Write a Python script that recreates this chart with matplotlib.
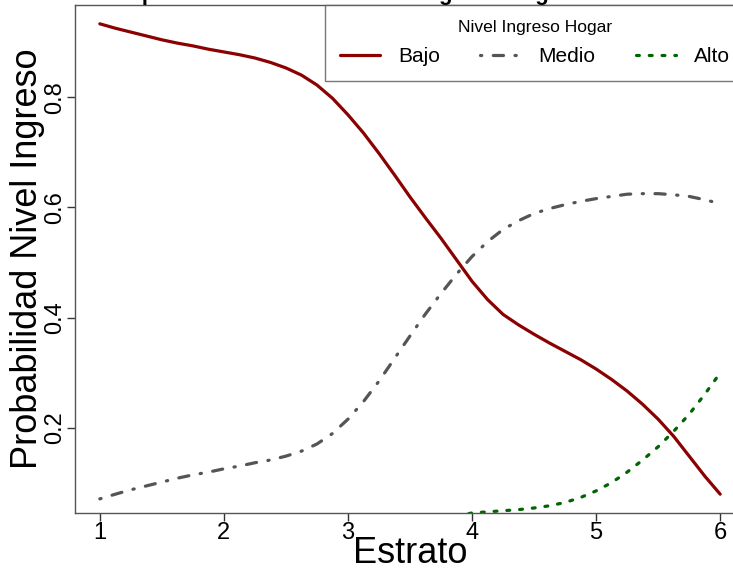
import numpy as np
import matplotlib
matplotlib.use("Agg")
import matplotlib.pyplot as plt

plt.rcParams['font.family'] = ['Liberation Sans', 'DejaVu Sans']

# ---- data ----
estrato = [1.0, 1.125, 1.25, 1.375, 1.5, 1.625, 1.75, 1.875, 2.0, 2.125,
           2.25, 2.375, 2.5, 2.625, 2.75, 2.875, 3.0, 3.125, 3.25, 3.375,
           3.5, 3.625, 3.75, 3.875, 4.0, 4.125, 4.25, 4.375, 4.5, 4.625,
           4.75, 4.875, 5.0, 5.125, 5.25, 5.375, 5.5, 5.625, 5.75, 5.875, 6.0]
bajo = [0.933, 0.925, 0.918, 0.911, 0.904, 0.898, 0.893, 0.887, 0.882, 0.877,
        0.871, 0.863, 0.853, 0.840, 0.822, 0.798, 0.768, 0.735, 0.698, 0.659,
        0.619, 0.581, 0.544, 0.505, 0.466, 0.433, 0.406, 0.387, 0.370, 0.354,
        0.339, 0.324, 0.307, 0.288, 0.267, 0.243, 0.216, 0.185, 0.149, 0.113, 0.080]
medio = [0.0715, 0.080, 0.088, 0.095, 0.102, 0.109, 0.115, 0.120, 0.126, 0.131,
         0.137, 0.142, 0.149, 0.158, 0.171, 0.190, 0.216, 0.248, 0.285, 0.326,
         0.367, 0.407, 0.444, 0.479, 0.511, 0.538, 0.560, 0.576, 0.589, 0.598,
         0.605, 0.611, 0.616, 0.620, 0.624, 0.625, 0.625, 0.623, 0.620, 0.614, 0.607]
alto = [0.002, 0.002, 0.002, 0.003, 0.003, 0.003, 0.004, 0.004, 0.005, 0.005,
        0.006, 0.007, 0.008, 0.009, 0.010, 0.011, 0.012, 0.014, 0.016, 0.019,
        0.022, 0.027, 0.033, 0.040, 0.046, 0.048, 0.050, 0.052, 0.055, 0.059,
        0.065, 0.074, 0.086, 0.101, 0.120, 0.142, 0.166, 0.194, 0.225, 0.261, 0.300]
series_names = ["Bajo", "Medio", "Alto"]
xticks = [1, 2, 3, 4, 5, 6]
yticks = [0.2, 0.4, 0.6, 0.8]
title = "Impacto del Estrato en Nivel Ingreso Hogar"
legend_title = "Nivel Ingreso Hogar"

W, H = 733, 571
fig = plt.figure(figsize=(W / 100, H / 100), dpi=100)
ax = fig.add_axes([75 / W, 58 / H, 670 / W, 508 / H])

lw = 2.3
ax.plot(estrato, bajo, color='#8B0000', lw=lw, solid_capstyle='round',
        solid_joinstyle='round', label=series_names[0])
ax.plot(estrato, medio, color='#555555', lw=lw, dashes=(0.4, 3.6, 3.2, 3.6),
        dash_capstyle='round', label=series_names[1])
ax.plot(estrato, alto, color='#006400', lw=lw, dashes=(0.9, 3.1),
        dash_capstyle='round', label=series_names[2])

# R-style 4% axis extension
xr = max(estrato) - min(estrato)
ax.set_xlim(min(estrato) - 0.04 * xr, max(estrato) + 0.04 * xr)
yr = max(bajo) - min(bajo)
ax.set_ylim(min(bajo) - 0.04 * yr, max(bajo) + 0.04 * yr)

ax.set_xticks(xticks)
ax.set_xticklabels([str(v) for v in xticks])
ax.set_yticks(yticks)
ax.set_yticklabels([f"{v:.1f}" for v in yticks], rotation=90, va='center')
ax.tick_params(axis='both', direction='out', length=5.8, width=1.0,
               color='#333333', labelsize=17, pad=0.5)

for s in ax.spines.values():
    s.set_color('#555555')
    s.set_linewidth(1.0)

ax.set_xlabel("Estrato", fontsize=26)
ax.xaxis.label.set_va('baseline')
ax.xaxis.set_label_coords(0.5, (8 - 58) / 508)
ax.set_ylabel("Probabilidad Nivel Ingreso", fontsize=26)
ax.yaxis.label.set_va('baseline')
ax.yaxis.set_label_coords((37 - 75) / 670, 0.5)

leg = ax.legend(loc='upper left', bbox_to_anchor=(250 / 670, 0, 420 / 670, 1.0),
                mode='expand', ncol=3, fontsize=15, title=legend_title,
                title_fontsize=12.6, frameon=True, fancybox=False,
                borderaxespad=0, handlelength=1.92, handletextpad=0.87,
                columnspacing=1.0, borderpad=0.72, labelspacing=0.58)
leg.get_frame().set_edgecolor('#555555')
leg.get_frame().set_linewidth(1.0)

fig.text(116 / W, 1.0, title, fontsize=16, fontweight='bold',
         ha='left', va='baseline')

fig.savefig("out.png", dpi=100)
